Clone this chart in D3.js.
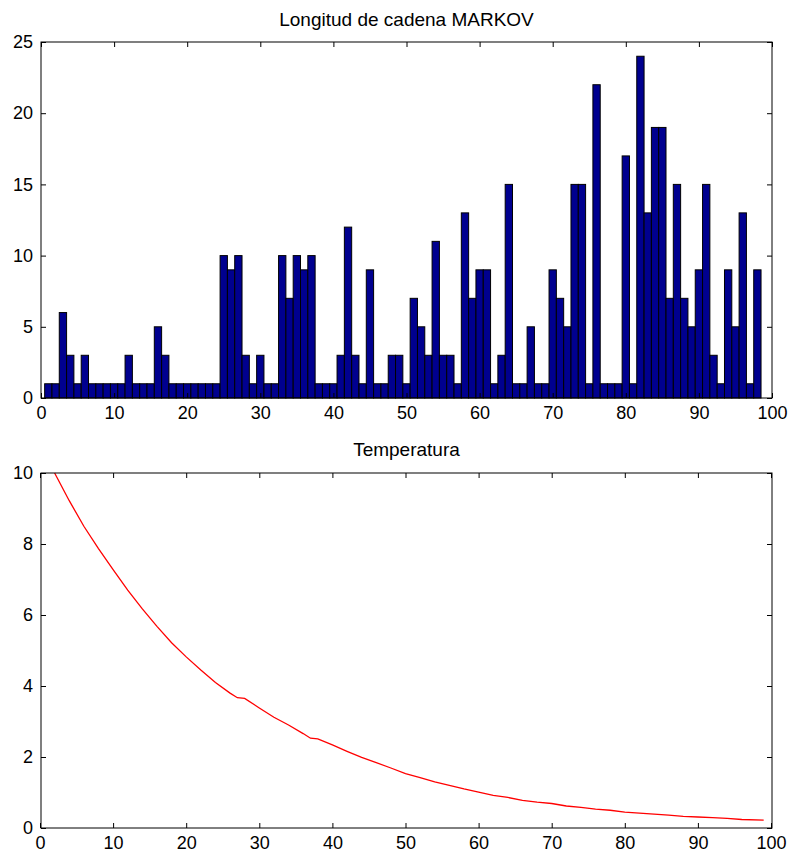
<!DOCTYPE html>
<html lang="es">
<head>
<meta charset="UTF-8">
<title>Longitud de cadena MARKOV</title>
<style>
  body { margin: 0; background: #fff; }
  text { font-family: "Liberation Sans", Arial, sans-serif; }
</style>
</head>
<body>
<div id="chart"></div>
<script src="https://cdnjs.cloudflare.com/ajax/libs/d3/7.8.2/d3.min.js"></script>
<script>
// longitud de cadena por iteracion (1..98)
var iteraciones = d3.range(1, 99);
var longitudes = [
  1, 1, 6, 3, 1, 3, 1, 1, 1, 1,
  1, 3, 1, 1, 1, 5, 3, 1, 1, 1,
  1, 1, 1, 1, 10, 9, 10, 3, 1, 3,
  1, 1, 10, 7, 10, 9, 10, 1, 1, 1,
  3, 12, 3, 1, 9, 1, 1, 3, 3, 1,
  7, 5, 3, 11, 3, 3, 1, 13, 7, 9,
  9, 1, 3, 15, 1, 1, 5, 1, 1, 9,
  7, 5, 15, 15, 1, 22, 1, 1, 1, 17,
  1, 24, 13, 19, 19, 7, 15, 7, 5, 9,
  15, 3, 1, 9, 5, 13, 1, 9
];

// temperatura
var tempX = [2, 4, 6, 8, 10, 12, 14, 16, 18, 20, 22, 24, 26, 27, 28, 30, 32, 34, 36, 37, 38, 40,
  42, 44, 46, 48, 50, 52, 54, 56, 58, 60, 62, 64, 66, 68, 70, 72, 74, 76, 78, 80,
  82, 84, 86, 88, 90, 92, 94, 96, 99];
var tempY = [10.0, 9.22, 8.5, 7.87, 7.28, 6.7, 6.17, 5.68, 5.22, 4.82, 4.45, 4.1, 3.8, 3.67, 3.65, 3.38, 3.12, 2.9, 2.66, 2.53, 2.51, 2.34,
  2.16, 1.99, 1.84, 1.69, 1.53, 1.42, 1.3, 1.2, 1.1, 1.01, 0.92, 0.86, 0.78, 0.73, 0.69, 0.62, 0.58, 0.53, 0.5, 0.45,
  0.42, 0.39, 0.36, 0.33, 0.31, 0.29, 0.27, 0.24, 0.22];

var xTicks = [0, 10, 20, 30, 40, 50, 60, 70, 80, 90, 100];
var yTicksTop = [0, 5, 10, 15, 20, 25];
var yTicksBottom = [0, 2, 4, 6, 8, 10];

var W = 788, H = 856;
var left = 41, right = 772;

var svg = d3.select("#chart").append("svg")
  .attr("width", W)
  .attr("height", H);

function drawAxes(g, x, y, yTicks, top, bottom) {
  g.append("g")
    .attr("transform", "translate(0," + bottom + ")")
    .call(d3.axisBottom(x).tickValues(xTicks).tickSize(-5).tickPadding(8).tickFormat(d3.format("d")));
  g.append("g")
    .attr("transform", "translate(0," + top + ")")
    .call(d3.axisTop(x).tickValues(xTicks).tickSize(-5).tickFormat(""));
  g.append("g")
    .attr("transform", "translate(" + left + ",0)")
    .call(d3.axisLeft(y).tickValues(yTicks).tickSize(-5).tickPadding(8).tickFormat(d3.format("d")));
  g.append("g")
    .attr("transform", "translate(" + right + ",0)")
    .call(d3.axisRight(y).tickValues(yTicks).tickSize(-5).tickFormat(""));

  g.selectAll(".domain").remove();
  g.selectAll(".tick line").attr("stroke", "#000");
  g.selectAll(".tick text")
    .attr("font-size", 18)
    .attr("fill", "#000");

  g.append("rect")
    .attr("x", left)
    .attr("y", top)
    .attr("width", right - left)
    .attr("height", bottom - top)
    .attr("fill", "none")
    .attr("stroke", "#000")
    .attr("stroke-width", 1);
}

// ---- grafico de barras ----
var top1 = 42, bottom1 = 398;
var x1 = d3.scaleLinear().domain([0, 100]).range([left, right]);
var y1 = d3.scaleLinear().domain([0, 25]).range([bottom1, top1]);

var g1 = svg.append("g");

g1.selectAll("rect.bar")
  .data(iteraciones)
  .enter()
  .append("rect")
  .attr("class", "bar")
  .attr("x", function(d) { return x1(d - 0.5); })
  .attr("width", x1(1) - x1(0))
  .attr("y", function(d, i) { return y1(longitudes[i]); })
  .attr("height", function(d, i) { return y1(0) - y1(longitudes[i]); })
  .attr("fill", "#00008f")
  .attr("stroke", "#000")
  .attr("stroke-width", 1);

drawAxes(g1, x1, y1, yTicksTop, top1, bottom1);

g1.append("text")
  .attr("x", (left + right) / 2)
  .attr("y", 26)
  .attr("text-anchor", "middle")
  .attr("font-size", 19)
  .text("Longitud de cadena MARKOV");

// ---- temperatura ----
var top2 = 473, bottom2 = 828;
var x2 = d3.scaleLinear().domain([0, 100]).range([left - 1, right - 1]);
var y2 = d3.scaleLinear().domain([0, 10]).range([bottom2, top2]);

var g2 = svg.append("g");

g2.append("path")
  .datum(tempX)
  .attr("fill", "none")
  .attr("stroke", "#ff0000")
  .attr("stroke-width", 1.3)
  .attr("d", d3.line()
    .x(function(d) { return x2(d); })
    .y(function(d, i) { return y2(tempY[i]); }));

drawAxes(g2, x2, y2, yTicksBottom, top2, bottom2);

g2.append("text")
  .attr("x", (left + right) / 2)
  .attr("y", 456)
  .attr("text-anchor", "middle")
  .attr("font-size", 19)
  .text("Temperatura");
</script>
</body>
</html>
